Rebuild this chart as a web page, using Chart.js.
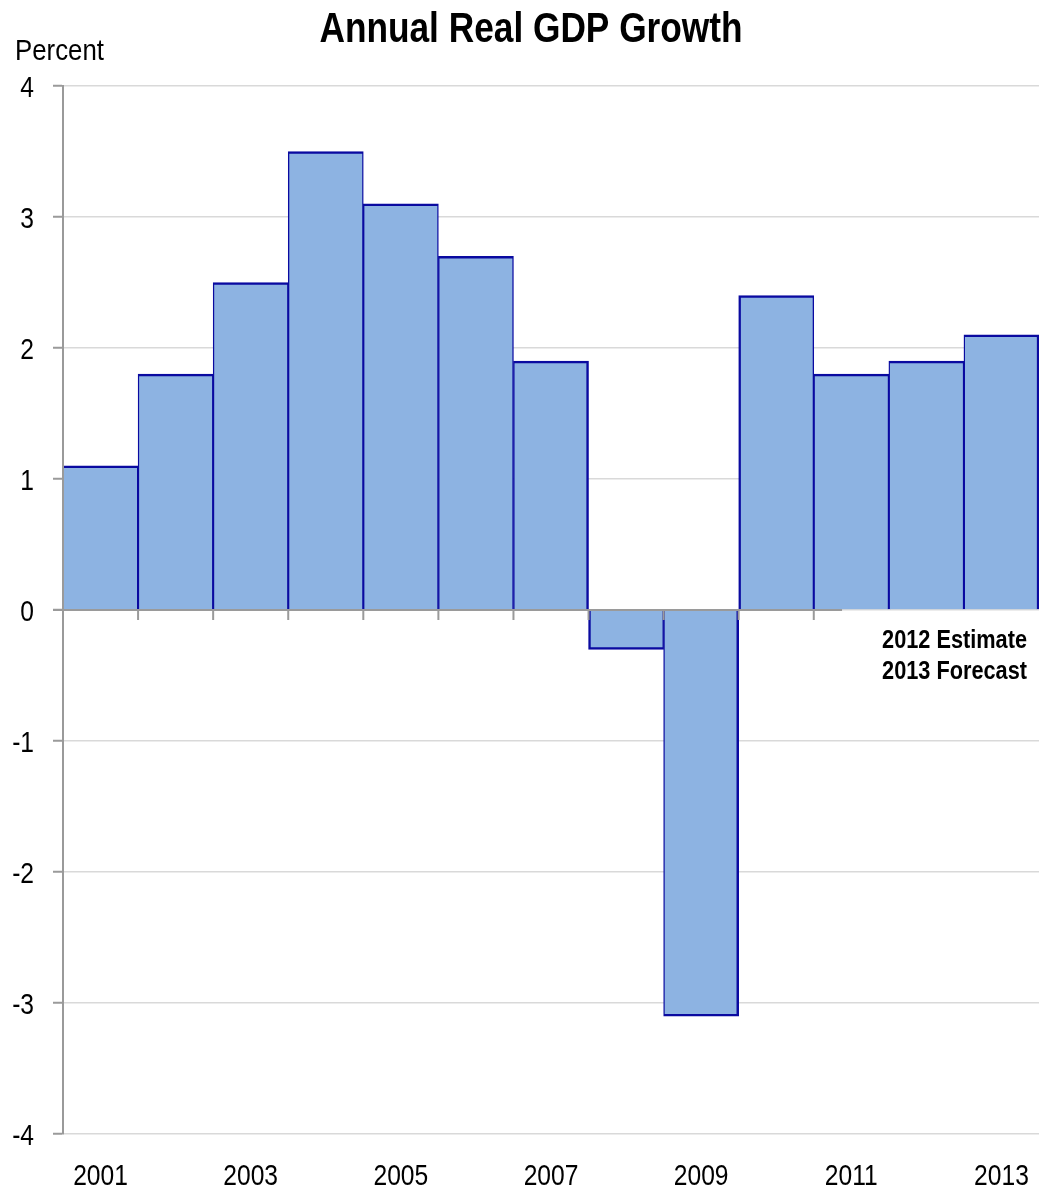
<!DOCTYPE html>
<html>
<head>
<meta charset="utf-8">
<title>Annual Real GDP Growth</title>
<script src="https://cdn.jsdelivr.net/npm/chart.js@4.4.1/dist/chart.umd.min.js"></script>
<style>
  html, body { margin: 0; padding: 0; background: #ffffff; }
  #wrap { width: 1047px; height: 1189px; position: relative; }
</style>
</head>
<body>
<div id="wrap"><canvas id="gdp" width="1047" height="1189"></canvas></div>
<script>
// Annual real GDP growth, percent (2012 estimate, 2013 forecast)
const years = ['2001','2002','2003','2004','2005','2006','2007','2008','2009','2010','2011','2012','2013'];
const growth = [1.1, 1.8, 2.5, 3.5, 3.1, 2.7, 1.9, -0.3, -3.1, 2.4, 1.8, 1.9, 2.1];
const yTicks = [-4, -3, -2, -1, 0, 1, 2, 3, 4];
const titleText = 'Annual Real GDP Growth';
const unitText = 'Percent';
const noteLines = ['2012 Estimate', '2013 Forecast'];

const FONT = "'Liberation Sans', Arial, sans-serif";
const NARROW = 0.82;            // horizontal squeeze for a narrow typeface look
const AXIS_GRAY = '#9a9a9a';

// Draws text squeezed horizontally around its anchor point
function narrowText(ctx, text, x, y, align, font, sx) {
  ctx.save();
  ctx.font = font;
  ctx.textAlign = align;
  ctx.textBaseline = 'alphabetic';
  ctx.translate(x, y);
  ctx.scale(sx, 1);
  ctx.fillText(text, 0, 0);
  ctx.restore();
}

// Border widths so shared bar edges and free edges look alike
function sideWidth(i, j) {
  if (j < 0) return 0;
  if (j >= growth.length) return 2.5;
  return Math.sign(growth[i]) === Math.sign(growth[j]) ? 1.4 : 2.5;
}

// Axis lines, zero line with category ticks, labels, title and note
const decorations = {
  id: 'decorations',
  afterDatasetsDraw(chart) {
    const { ctx, chartArea, scales } = chart;
    const x = scales.x, y = scales.y;
    const y0 = y.getPixelForValue(0);

    ctx.save();
    const noteFont = 'bold 26.5px ' + FONT;
    ctx.font = noteFont;
    const noteW = Math.max(...noteLines.map(t => ctx.measureText(t).width)) * NARROW;
    const noteRight = 1027;
    const boxLeft = noteRight - noteW - 40;

    // vertical axis line
    ctx.strokeStyle = AXIS_GRAY;
    ctx.lineWidth = 2;
    ctx.beginPath();
    ctx.moveTo(chartArea.left, chartArea.top);
    ctx.lineTo(chartArea.left, chartArea.bottom);
    ctx.stroke();

    // zero line
    ctx.beginPath();
    ctx.moveTo(chartArea.left - 10, y0);
    ctx.lineTo(boxLeft, y0);
    ctx.stroke();

    // category boundary ticks below the zero line
    for (let i = 0; i < years.length; i++) {
      const bx = i === 0 ? chartArea.left
        : (x.getPixelForValue(i - 1) + x.getPixelForValue(i)) / 2;
      if (bx > boxLeft) break;
      ctx.beginPath();
      ctx.moveTo(bx, y0);
      ctx.lineTo(bx, y0 + 10);
      ctx.stroke();
    }
    ctx.restore();

    ctx.fillStyle = '#000000';
    // y tick labels
    const tickFont = '30px ' + FONT;
    y.ticks.forEach(t => {
      narrowText(ctx, String(t.value), 34, y.getPixelForValue(t.value) + 11, 'right', tickFont, NARROW);
    });
    // x tick labels, every other year
    years.forEach((yr, i) => {
      if (i % 2 === 0) narrowText(ctx, yr, x.getPixelForValue(i), 1185, 'center', tickFont, NARROW);
    });

    // note
    narrowText(ctx, noteLines[0], noteRight, y0 + 38, 'right', noteFont, NARROW);
    narrowText(ctx, noteLines[1], noteRight, y0 + 69, 'right', noteFont, NARROW);

    // title and unit label
    narrowText(ctx, titleText, 531, 42, 'center', 'bold 43px ' + FONT, NARROW);
    narrowText(ctx, unitText, 15, 60, 'left', '30px ' + FONT, 0.86);
  }
};

new Chart(document.getElementById('gdp'), {
  type: 'bar',
  data: {
    labels: years,
    datasets: [{
      data: growth,
      backgroundColor: '#8db3e2',
      borderColor: '#0a0aa0',
      borderWidth: c => {
        const i = c.dataIndex;
        const side = { left: sideWidth(i, i - 1), right: sideWidth(i, i + 1) };
        return growth[i] >= 0
          ? { top: 2.5, bottom: 0, ...side }
          : { top: 0, bottom: 2.5, ...side };
      },
      borderSkipped: false,
      barPercentage: 1,
      categoryPercentage: 1
    }]
  },
  plugins: [decorations],
  options: {
    responsive: false,
    animation: false,
    layout: { padding: { top: 86, right: 8, left: 0, bottom: 0 } },
    plugins: {
      legend: { display: false },
      title: { display: false },
      tooltip: { enabled: false }
    },
    scales: {
      x: {
        offset: true,
        grid: { display: false, drawTicks: false },
        border: { display: false },
        ticks: { display: false },
        afterFit: s => { s.height = 55; }
      },
      y: {
        min: -4,
        max: 4,
        afterBuildTicks: s => { s.ticks = yTicks.map(v => ({ value: v })); },
        grid: {
          color: '#d9d9d9',
          lineWidth: 1.5,
          tickColor: AXIS_GRAY,
          tickLength: 10,
          tickWidth: 2
        },
        border: { display: true, color: AXIS_GRAY, width: 2 },
        ticks: { display: false },
        afterFit: s => { s.width = 63; }
      }
    }
  }
});
</script>
</body>
</html>
